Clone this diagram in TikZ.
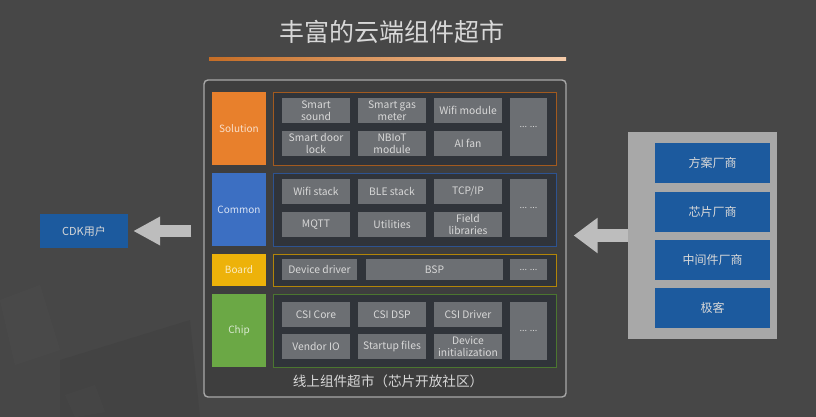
\documentclass[tikz,border=0pt]{standalone}
\usepackage{fontspec}
\setmainfont{Noto Sans CJK SC}
\usetikzlibrary{arrows.meta,positioning,calc}
\definecolor{mktBg}{HTML}{474747}
\definecolor{mktPanel}{HTML}{3E3E3E}
\definecolor{mktFrame}{HTML}{30343A}
\definecolor{mktCell}{HTML}{6C6F73}
\definecolor{mktText}{HTML}{D8D8D8}
\definecolor{mktLine}{HTML}{A8A8A8}
\definecolor{mktArrow}{HTML}{BDBDBD}
\definecolor{mktSolution}{HTML}{E8802C}
\definecolor{mktCommon}{HTML}{3C6FC2}
\definecolor{mktBoard}{HTML}{EDB20A}
\definecolor{mktChip}{HTML}{6BA845}
\definecolor{mktVendor}{HTML}{1C5A9E}
\tikzset{
  catbox/.style={
    minimum width=54pt,
    minimum height=73pt,
    inner sep=0pt,
    align=center,
    font=\fontsize{10}{12}\selectfont
  },
  framebox/.style={
    draw,
    line width=0.9pt,
    fill=mktFrame,
    minimum width=283pt,
    minimum height=73pt,
    inner sep=0pt
  },
  cellbox/.style={
    fill=mktCell,
    text=mktText,
    minimum width=68pt,
    minimum height=25pt,
    inner sep=0pt,
    align=center,
    font=\fontsize{10.3}{11.8}\selectfont
  },
  dotbox/.style={
    cellbox,
    minimum width=37pt,
    minimum height=58pt,
    font=\fontsize{9}{10}\selectfont
  },
  vendorbox/.style={
    fill=mktVendor,
    text=mktText,
    minimum width=115pt,
    minimum height=40pt,
    inner sep=0pt,
    font=\fontsize{12}{14}\selectfont
  },
  blockarrow/.style={
    draw=mktArrow,
    line width=13pt
  }
}

\begin{document}
\begin{tikzpicture}[x=1pt,y=-1pt]
  % background
  \fill[mktBg] (0,0) rectangle (816,417);
  \useasboundingbox (0,0) rectangle (816,417);
  \fill[white, opacity=0.015] (0,300) -- (40,285) -- (60,350) -- (15,365) -- cycle;
  \fill[white, opacity=0.015] (65,395) -- (95,385) -- (105,412) -- (75,417) -- cycle;
  \fill[black, opacity=0.05] (60,360) -- (190,320) -- (200,417) -- (60,417) -- cycle;

  % title
  \node[text=mktText, font=\fontsize{25}{28}\selectfont] (title) at (392,32) {丰富的云端组件超市};
  \shade[left color=mktSolution!85!black, right color=mktSolution!40!white] (209,57.5) rectangle (566,60.5);

  % market panel
  \node[draw=mktLine, line width=1.4pt, fill=mktPanel, rounded corners=4pt,
    minimum width=362pt, minimum height=317pt, inner sep=0pt] (market) at (385,238.5) {};

  % layers
  \node[catbox, fill=mktSolution, text=mktSolution!25!white] (solution) at (239,128.5) {Solution};
  \node[catbox, fill=mktCommon, text=mktCommon!20!white] (common) at (239,209.5) {Common};
  \node[catbox, fill=mktBoard, text=mktBoard!25!white, minimum height=32pt] (board) at (239,270) {Board};
  \node[catbox, fill=mktChip, text=mktChip!25!white] (chip) at (239,330.5) {Chip};

  \node[framebox, draw=mktSolution!70!black] (solframe) at (414.5,128.5) {};
  \node[framebox, draw=mktCommon!75!black] (comframe) at (414.5,209.5) {};
  \node[framebox, draw=mktBoard!75!black, minimum height=32pt] (brdframe) at (414.5,270) {};
  \node[framebox, draw=mktChip!70!black] (chpframe) at (414.5,330.5) {};

  % solution cells
  \node[cellbox] (smartsound) at (316,110.5) {Smart\\sound};
  \node[cellbox] (gasmeter) at (392,110.5) {Smart gas\\meter};
  \node[cellbox] (wifimod) at (468,110.5) {Wifi module};
  \node[cellbox] (doorlock) at (316,143.5) {Smart door\\lock};
  \node[cellbox] (nbiot) at (392,143.5) {NBIoT\\module};
  \node[cellbox] (aifan) at (468,143.5) {AI fan};
  \node[dotbox] (soldots) at (528.5,127) {... ...};

  % common cells
  \node[cellbox] (wifistack) at (316,191.5) {Wifi stack};
  \node[cellbox] (blestack) at (392,191.5) {BLE stack};
  \node[cellbox] (tcpip) at (468,191.5) {TCP/IP};
  \node[cellbox] (mqtt) at (316,224.5) {MQTT};
  \node[cellbox] (utilities) at (392,224.5) {Utilities};
  \node[cellbox] (fieldlib) at (468,224.5) {Field\\libraries};
  \node[dotbox] (comdots) at (528.5,208) {... ...};

  % board cells
  \node[cellbox, minimum width=75pt, minimum height=21pt] (devdriver) at (319.5,269.5) {Device driver};
  \node[cellbox, minimum width=137pt, minimum height=21pt] (bsp) at (434.5,269.5) {BSP};
  \node[dotbox, minimum height=21pt] (brddots) at (528.5,269.5) {... ...};

  % chip cells
  \node[cellbox] (csicore) at (316,314.5) {CSI Core};
  \node[cellbox] (csidsp) at (392,314.5) {CSI DSP};
  \node[cellbox] (csidriver) at (468,314.5) {CSI Driver};
  \node[cellbox] (vendorio) at (316,346.5) {Vendor IO};
  \node[cellbox] (startup) at (392,346.5) {Startup files};
  \node[cellbox] (devinit) at (468,346.5) {Device\\initialization};
  \node[dotbox] (chpdots) at (528.5,330.5) {... ...};

  \node[text=mktText, font=\fontsize{13.6}{15}\selectfont] (caption) at (388,381) {线上组件超市（芯片开放社区）};

  % users
  \node[fill=mktVendor, text=mktText, minimum width=88pt, minimum height=34pt, inner sep=0pt,
    font=\fontsize{11}{13}\selectfont] (cdk) at (84,231) {CDK用户};

  % providers
  \node[fill=mktLine, minimum width=149pt, minimum height=207pt, inner sep=0pt] (providers) at (702.5,235.5) {};
  \node[vendorbox] (solvendor) at (712.5,163) {方案厂商};
  \node[vendorbox] (chipvendor) at (712.5,212) {芯片厂商};
  \node[vendorbox] (midvendor) at (712.5,260) {中间件厂商};
  \node[vendorbox] (geek) at (712.5,308) {极客};

  % arrows
  \draw[blockarrow, -{Triangle[length=24pt,width=34pt]}, shorten >=7pt]
    (providers.west) -- (providers.west -| market.east);
  \draw[blockarrow, line width=12pt, -{Triangle[length=27pt,width=27pt]}, shorten <=12pt, shorten >=5pt]
    (cdk.east -| market.west) -- (cdk.east);
\end{tikzpicture}
\end{document}
